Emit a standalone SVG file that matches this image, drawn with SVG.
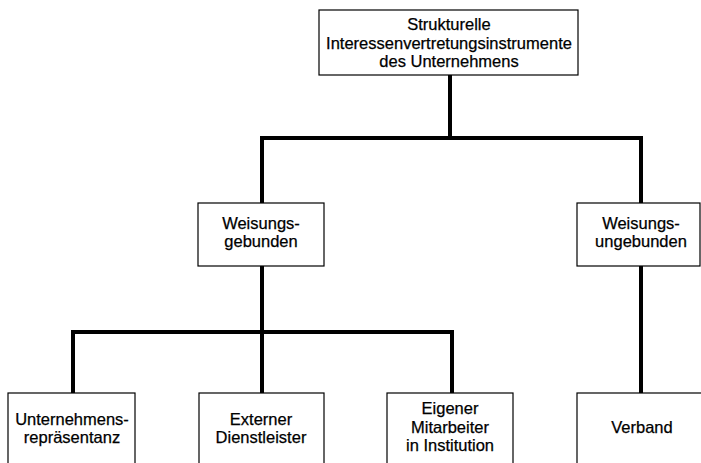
<svg xmlns="http://www.w3.org/2000/svg" width="701" height="463" viewBox="0 0 701 463">
<style>
.box{fill:#fff;stroke:#000;stroke-width:1.2}
.t{font-family:"Liberation Sans",Arial,sans-serif;font-size:16.5px;fill:#000;stroke:#000;stroke-width:0.25;text-anchor:middle}
.c{fill:none;stroke:#000;stroke-width:4;stroke-linejoin:miter;stroke-linecap:square}
</style>
<rect width="701" height="463" fill="#fff"/>
<g id="connectors">
<path class="c" d="M450,76 V138"/>
<path class="c" d="M262,203 V138 H641 V203"/>
<path class="c" d="M262,266 V393"/>
<path class="c" d="M73,393 V332 H452 V393"/>
<path class="c" d="M641,266 V393"/>
</g>
<g id="root">
<rect class="box" x="319" y="10" width="259" height="65"/>
<text class="t" x="449" y="30">Strukturelle</text>
<text class="t" x="449" y="48.5">Interessenvertretungsinstrumente</text>
<text class="t" x="449" y="66.5">des Unternehmens</text>
</g>
<g id="weisungsgebunden">
<rect class="box" x="198" y="203" width="126" height="63"/>
<text class="t" x="261" y="228.5">Weisungs-</text>
<text class="t" x="261" y="246.5">gebunden</text>
</g>
<g id="weisungsungebunden">
<rect class="box" x="577" y="203" width="123" height="63"/>
<text class="t" x="641" y="228.5">Weisungs-</text>
<text class="t" x="641" y="246.5">ungebunden</text>
</g>
<g id="unternehmensrepraesentanz">
<rect class="box" x="8" y="393" width="127" height="80"/>
<text class="t" x="72" y="425">Unternehmens-</text>
<text class="t" x="72" y="443">repräsentanz</text>
</g>
<g id="externer-dienstleister">
<rect class="box" x="199" y="393" width="125" height="80"/>
<text class="t" x="261" y="425">Externer</text>
<text class="t" x="261" y="443">Dienstleister</text>
</g>
<g id="eigener-mitarbeiter">
<rect class="box" x="387" y="393" width="126" height="80"/>
<text class="t" x="450" y="414">Eigener</text>
<text class="t" x="450" y="432.5">Mitarbeiter</text>
<text class="t" x="450" y="451">in Institution</text>
</g>
<g id="verband">
<rect class="box" x="577" y="393" width="140" height="80"/>
<text class="t" x="642" y="433">Verband</text>
</g>
</svg>
